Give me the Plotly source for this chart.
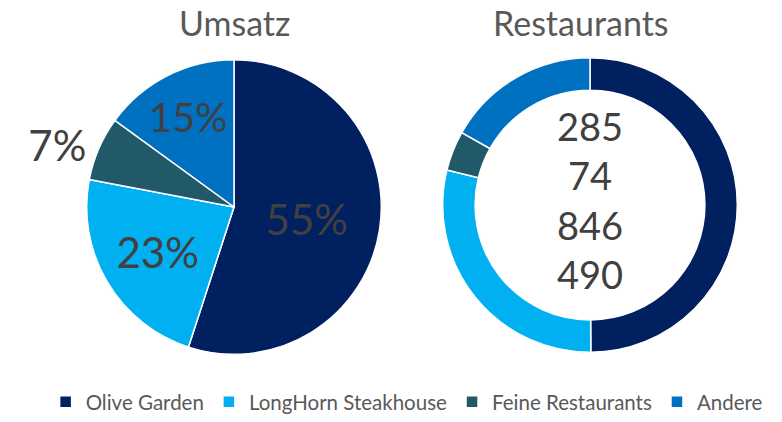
import plotly.graph_objects as go

categories = ["Olive Garden", "LongHorn Steakhouse", "Feine Restaurants", "Andere"]
umsatz_pct = [55, 23, 7, 15]
restaurants = [846, 490, 74, 285]
center_order = ["Andere", "Feine Restaurants", "Olive Garden", "LongHorn Steakhouse"]
colors = ["#002060", "#00B0F0", "#215968", "#0070C0"]
titles = ["Umsatz", "Restaurants"]

FONT = "Lato"
W, H = 782, 422

fig = go.Figure()
fig.add_trace(go.Pie(
    labels=categories, values=umsatz_pct, sort=False, direction="clockwise",
    rotation=0, marker=dict(colors=colors, line=dict(color="white", width=1.5)),
    textinfo="percent", texttemplate="%{value}%",
    textposition=["inside", "inside", "outside", "inside"],
    insidetextorientation="horizontal",
    textfont=dict(family=FONT, size=42, color="#404040"),
    domain=dict(x=[85 / W, 383 / W], y=[66 / H, 362 / H]),
    hoverinfo="label+percent", showlegend=True,
))
fig.add_trace(go.Pie(
    labels=categories, values=restaurants, sort=False, direction="clockwise",
    rotation=0, hole=0.78, textinfo="none",
    marker=dict(colors=colors, line=dict(color="white", width=1.5)),
    domain=dict(x=[442 / W, 738 / W], y=[68 / H, 364 / H]),
    showlegend=True,
))

center_text = "<br>".join(str(restaurants[categories.index(c)]) for c in center_order)

fig.update_layout(
    width=W, height=H, margin=dict(l=0, r=0, t=0, b=0),
    paper_bgcolor="white", plot_bgcolor="white",
    font=dict(family=FONT, color="#595959"),
    legend=dict(orientation="h", x=0.52, xanchor="center", y=18 / H, yanchor="middle",
                font=dict(family=FONT, size=20.5, color="#595959"), traceorder="normal"),
    annotations=[
        dict(text=titles[0], x=234 / W, y=1 - 23 / H, xref="paper", yref="paper",
             xanchor="center", yanchor="middle",
             showarrow=False, font=dict(family=FONT, size=34, color="#595959")),
        dict(text=titles[1], x=581 / W, y=1 - 23 / H, xref="paper", yref="paper",
             xanchor="center", yanchor="middle",
             showarrow=False, font=dict(family=FONT, size=34, color="#595959")),
        dict(text=center_text, x=590 / W, y=1 - 201 / H, xref="paper", yref="paper",
             xanchor="center", yanchor="middle",
             showarrow=False, font=dict(family=FONT, size=38, color="#404040")),
    ],
)

fig.write_html("out.html")
